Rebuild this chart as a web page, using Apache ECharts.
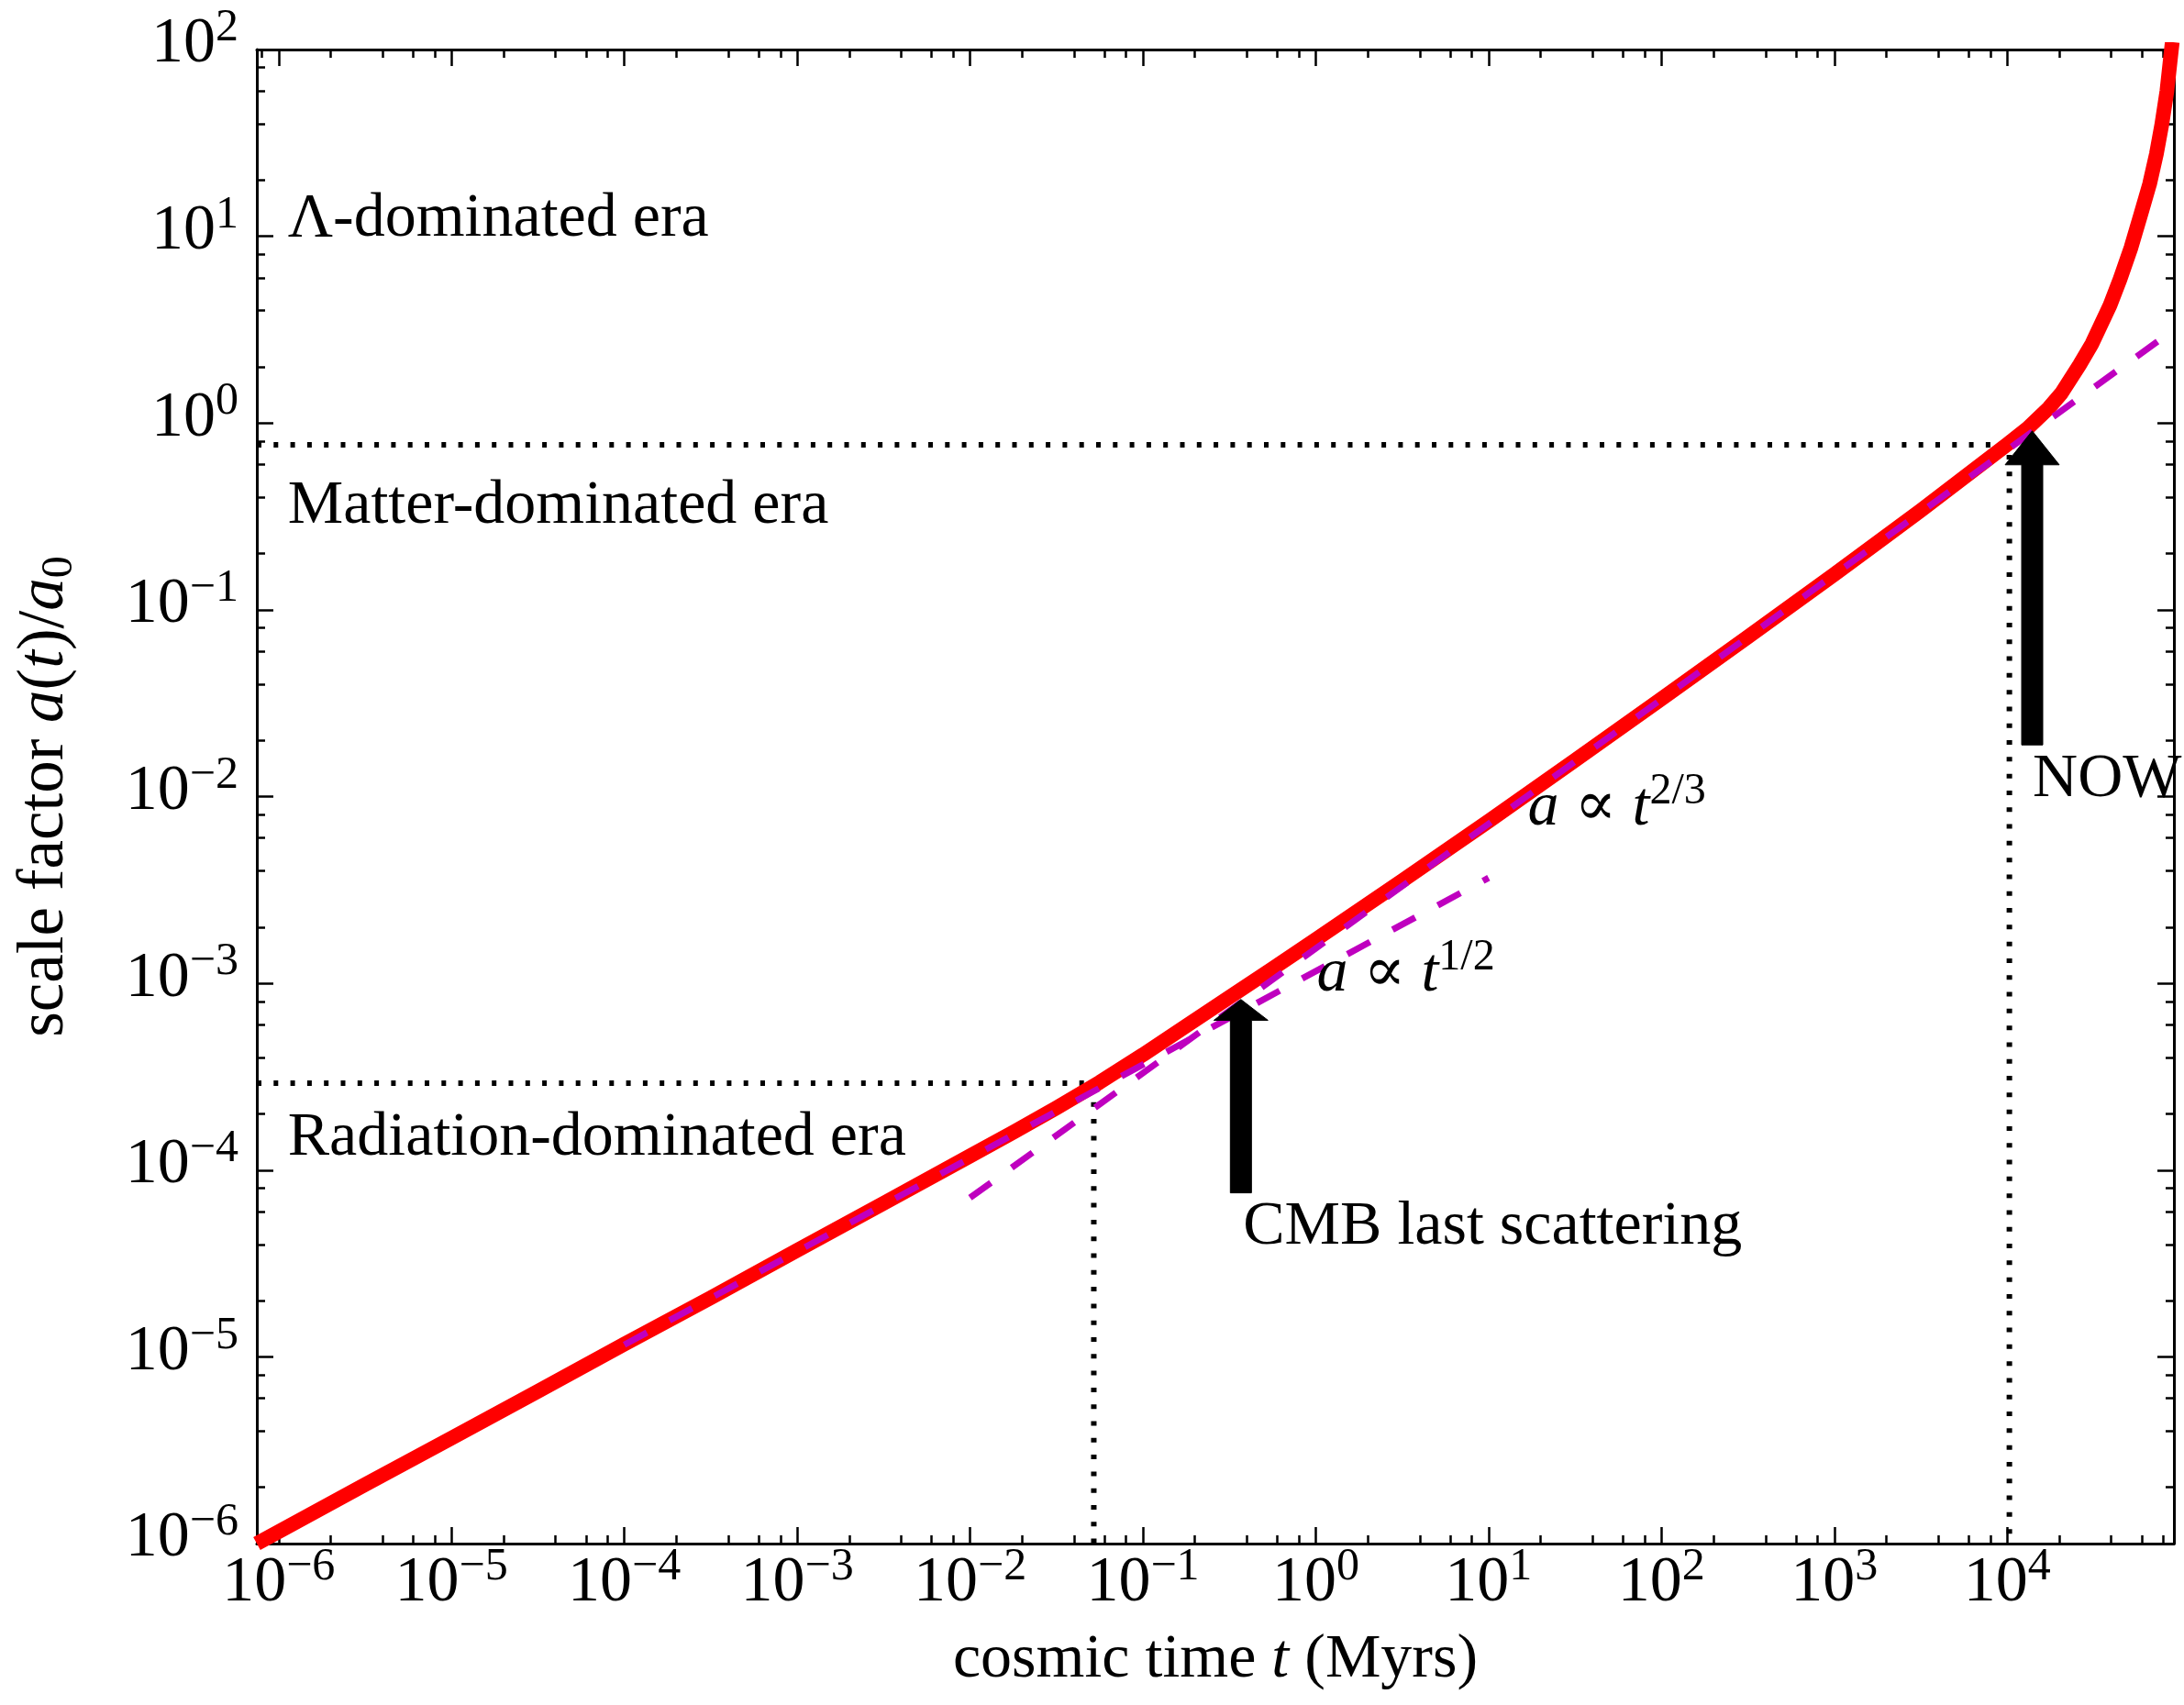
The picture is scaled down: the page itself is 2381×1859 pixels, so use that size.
<!DOCTYPE html>
<html>
<head>
<meta charset="utf-8">
<script src="https://cdn.jsdelivr.net/npm/echarts@6/dist/echarts.min.js"></script>
<style>
html,body{margin:0;padding:0;background:#ffffff;}
#chart{width:2381px;height:1859px;}
</style>
</head>
<body>
<div id="chart"></div>
<script>
// ---------------- data ----------------
const xRange = [7.48e-7, 9.22e4];
const yRange = [1e-6, 100];

const xMajorTicks = [1e-6, 1e-5, 1e-4, 1e-3, 1e-2, 1e-1, 1, 10, 100, 1000, 10000];
const xTickExponents = ['−6', '−5', '−4', '−3', '−2', '−1', '0', '1', '2', '3', '4'];
const yMajorTicks = [1e-6, 1e-5, 1e-4, 1e-3, 1e-2, 1e-1, 1, 10, 100];
const yTickExponents = ['−6', '−5', '−4', '−3', '−2', '−1', '0', '1', '2'];
const minorMultipliers = [2, 4, 6, 8];
const xMinorDecades = [1e-7, 1e-6, 1e-5, 1e-4, 1e-3, 1e-2, 1e-1, 1, 10, 100, 1000, 10000];
const yMinorDecades = [1e-6, 1e-5, 1e-4, 1e-3, 1e-2, 1e-1, 1, 10];

// scale factor a(t)/a0 vs cosmic time t (Myrs)
const curveT = [7.48e-7, 3.16e-6, 1e-5, 3.16e-5, 1e-4, 3.16e-4, 1e-3, 3.16e-3, 0.01, 0.0178, 0.0316, 0.0562, 0.1, 0.178, 0.316, 0.562, 1, 3.16, 10, 31.6, 100, 316, 1000, 1778, 3162, 5623, 1e4, 1.312e4, 1.738e4, 2.06e4, 2.618e4, 3.097e4, 3.936e4, 4.5e4, 5.21e4, 5.9e4, 6.67e4, 7.3e4, 7.85e4, 8.4e4, 8.87e4, 9.02e4];
const curveA = [1.0e-6, 2.07e-6, 3.67e-6, 6.53e-6, 1.17e-5, 2.07e-5, 3.72e-5, 6.64e-5, 1.19e-4, 1.596e-4, 2.153e-4, 2.951e-4, 4.14e-4, 5.916e-4, 8.414e-4, 1.199e-3, 1.714e-3, 3.54e-3, 7.379e-3, 0.01563, 0.03334, 0.07161, 0.1549, 0.2291, 0.3404, 0.5105, 0.7674, 0.9376, 1.202, 1.445, 2.042, 2.661, 4.266, 5.888, 8.71, 12.88, 19.05, 27.54, 39.8, 60.0, 95.5, 109.6];

// power-law guides (end points)
const halfPowerT = [1e-4, 10];
const halfPowerA = [1.16e-5, 3.67e-3];
const twoThirdPowerT = [0.01, 9.22e4];
const twoThirdPowerA = [7.11e-5, 3.16];

// dotted reference lines (corner points)
const nowDotT = 1.03e4, nowDotA = 0.764;
const eqDotT = 0.052, eqDotA = 2.92e-4;

// arrows: time, tail a, tip a
const arrowT = [0.369, 1.396e4];
const arrowTailA = [7.55e-5, 0.0189];
const arrowTipA = [8.2e-4, 0.908];

// annotation texts and their anchors (left, vertical middle)
const noteTexts = [
  '{b|Λ-dominated era}',
  '{b|Matter-dominated era}',
  '{b|Radiation-dominated era}',
  '{i|a}{b| ∝ }{i|t}{s|2/3}',
  '{i|a}{b| ∝ }{i|t}{s|1/2}',
  '{b|CMB last scattering}',
  '{b|NOW}'
];
const noteT = [1.13e-6, 1.13e-6, 1.13e-6, 16.85, 1.012, 0.380, 1.405e4];
const noteA = [13.0, 0.377, 1.56e-4, 9.2e-3, 1.19e-3, 5.21e-5, 0.01297];

// ---------------- styles ----------------
const FONT = '"Liberation Serif", "Times New Roman", "DejaVu Serif", serif';
const BASE = 68;
const NOTE_SHIFT = 5;   // px, baseline correction for annotation text
const richText = {
  b: {fontFamily: FONT, fontSize: BASE, lineHeight: 82, color: '#000'},
  i: {fontFamily: FONT, fontSize: BASE, lineHeight: 82, fontStyle: 'italic', color: '#000'},
  s: {fontFamily: FONT, fontSize: 48, lineHeight: 48, verticalAlign: 'top', color: '#000'}
};
const tickRich = {
  b: {fontFamily: FONT, fontSize: 70, lineHeight: 86, color: '#000'},
  s: {fontFamily: FONT, fontSize: 50, lineHeight: 50, verticalAlign: 'top', color: '#000'}
};
const AXIS_LINE = {color: '#000', width: 3};
const TICK_LINE = {color: '#000', width: 2.5};
const MAJOR_LEN = 18, MINOR_LEN = 9;
const ARROW_SHAFT = 23, ARROW_HEAD = 59, ARROW_HEAD_FRAC = 0.108;
const DOT_STYLE = {color: '#000', width: 6, type: [5, 13.3], cap: 'butt'};
const DASH_STYLE = {color: '#bf00bf', width: 7, type: [28, 28], cap: 'butt'};

const xMinorTicks = xMinorDecades.flatMap(d => minorMultipliers.map(k => +(d * k).toPrecision(6)));
const yMinorTicks = yMinorDecades.flatMap(d => minorMultipliers.map(k => +(d * k).toPrecision(6)));

function expLabel(ticks, exps) {
  return function (v) {
    const e = Math.round(Math.log10(v));
    const i = ticks.findIndex(m => Math.round(Math.log10(m)) === e);
    return i < 0 ? '' : '{b|10}{s|' + exps[i] + '}';
  };
}

function logAxis(dim, position, major, showLine, extra) {
  const range = dim === 'x' ? xRange : yRange;
  const ticks = major ? (dim === 'x' ? xMajorTicks : yMajorTicks) : (dim === 'x' ? xMinorTicks : yMinorTicks);
  return Object.assign({
    type: 'log',
    logBase: 10,
    position: position,
    min: range[0],
    max: range[1],
    axisLine: {show: showLine, onZero: false, lineStyle: AXIS_LINE},
    axisTick: {show: true, inside: true, length: major ? MAJOR_LEN : MINOR_LEN, customValues: ticks, lineStyle: TICK_LINE},
    axisLabel: {show: false},
    splitLine: {show: false},
    minorTick: {show: false},
    minorSplitLine: {show: false},
    axisPointer: {show: false},
    silent: true
  }, extra || {});
}

const option = {
  animation: false,
  backgroundColor: '#ffffff',
  textStyle: {fontFamily: FONT, color: '#000'},
  grid: {left: 280, right: 11, top: 54, bottom: 176, containLabel: false, outerBoundsMode: 'none'},
  xAxis: [
    logAxis('x', 'bottom', true, true, {
      axisLabel: {show: true, customValues: xMajorTicks, margin: 1, formatter: expLabel(xMajorTicks, xTickExponents), rich: tickRich},
      name: '{r|cosmic time }{i|t}{r| (Myrs)}',
      nameLocation: 'middle',
      nameGap: 86,
      nameTextStyle: {fontFamily: FONT, fontSize: BASE, color: '#000', rich: {
        r: {fontFamily: FONT, fontSize: BASE, lineHeight: 82, color: '#000'},
        i: {fontFamily: FONT, fontSize: BASE, lineHeight: 82, fontStyle: 'italic', color: '#000'}
      }}
    }),
    logAxis('x', 'bottom', false, false),
    logAxis('x', 'top', true, true),
    logAxis('x', 'top', false, false)
  ],
  yAxis: [
    logAxis('y', 'left', true, true, {
      axisLabel: {show: true, customValues: yMajorTicks, margin: 20, padding: [0, 0, 10, 0], formatter: expLabel(yMajorTicks, yTickExponents), rich: tickRich},
      name: '{r|scale factor }{i|a}{r|(}{i|t}{r|)/}{i|a}{sub|0}',
      nameLocation: 'middle',
      nameRotate: 90,
      nameGap: 191,
      nameTextStyle: {fontFamily: FONT, fontSize: 71, color: '#000', rich: {
        r: {fontFamily: FONT, fontSize: 71, lineHeight: 80, color: '#000'},
        i: {fontFamily: FONT, fontSize: 71, lineHeight: 80, fontStyle: 'italic', color: '#000'},
        sub: {fontFamily: FONT, fontSize: 48, lineHeight: 48, verticalAlign: 'bottom', color: '#000'}
      }}
    }),
    logAxis('y', 'left', false, false),
    logAxis('y', 'right', true, true),
    logAxis('y', 'right', false, false)
  ],
  series: [
    {
      name: 'now reference',
      type: 'line', xAxisIndex: 0, yAxisIndex: 0, z: 1,
      symbol: 'none', silent: true,
      data: [[xRange[0], nowDotA], [nowDotT, nowDotA], [nowDotT, yRange[0]]],
      lineStyle: DOT_STYLE
    },
    {
      name: 'equality reference',
      type: 'line', xAxisIndex: 0, yAxisIndex: 0, z: 1,
      symbol: 'none', silent: true,
      data: [[xRange[0], eqDotA], [eqDotT, eqDotA], [eqDotT, yRange[0]]],
      lineStyle: DOT_STYLE
    },
    {
      name: 'a(t)',
      type: 'line', xAxisIndex: 0, yAxisIndex: 0, z: 2,
      symbol: 'none', silent: true, clip: true, smooth: false,
      data: curveT.map((t, i) => [t, curveA[i]]),
      lineStyle: {color: '#ff0000', width: 16, cap: 'butt', join: 'round'}
    },
    {
      name: 'a ∝ t^1/2',
      type: 'line', xAxisIndex: 0, yAxisIndex: 0, z: 3,
      symbol: 'none', silent: true, clip: true,
      data: halfPowerT.map((t, i) => [t, halfPowerA[i]]),
      lineStyle: DASH_STYLE
    },
    {
      name: 'a ∝ t^2/3',
      type: 'line', xAxisIndex: 0, yAxisIndex: 0, z: 3,
      symbol: 'none', silent: true, clip: true,
      data: twoThirdPowerT.map((t, i) => [t, twoThirdPowerA[i]]),
      lineStyle: DASH_STYLE
    },
    {
      name: 'arrows',
      type: 'custom', xAxisIndex: 0, yAxisIndex: 0, z: 4, silent: true,
      encode: {x: 0, y: [1, 2]},
      data: arrowT.map((t, i) => [t, arrowTailA[i], arrowTipA[i]]),
      renderItem: function (params, api) {
        const tail = api.coord([api.value(0), api.value(1)]);
        const tip = api.coord([api.value(0), api.value(2)]);
        const hl = (tail[1] - tip[1]) * ARROW_HEAD_FRAC;
        const sw = ARROW_SHAFT / 2, hw = ARROW_HEAD / 2, x = tail[0];
        return {
          type: 'polygon',
          shape: {points: [
            [x - sw, tail[1]], [x - sw, tip[1] + hl], [x - hw, tip[1] + hl], [tip[0], tip[1]],
            [x + hw, tip[1] + hl], [x + sw, tip[1] + hl], [x + sw, tail[1]]
          ]},
          style: {fill: '#000', stroke: '#000', lineWidth: 1}
        };
      }
    },
    {
      name: 'annotations',
      type: 'custom', xAxisIndex: 0, yAxisIndex: 0, z: 5, silent: true,
      encode: {x: 0, y: 1},
      data: noteT.map((t, i) => [t, noteA[i], i]),
      renderItem: function (params, api) {
        const p = api.coord([api.value(0), api.value(1)]);
        const idx = api.value(2);
        return {
          type: 'text',
          x: p[0], y: p[1] + NOTE_SHIFT,
          style: {
            text: noteTexts[idx],
            rich: richText,
            fontFamily: FONT, fontSize: BASE, fill: '#000',
            align: 'left', verticalAlign: 'middle',
            textAlign: 'left', textVerticalAlign: 'middle'
          }
        };
      }
    }
  ]
};

const chart = echarts.init(document.getElementById('chart'), null, {renderer: 'canvas', width: 2381, height: 1859});
chart.setOption(option);
</script>
</body>
</html>
